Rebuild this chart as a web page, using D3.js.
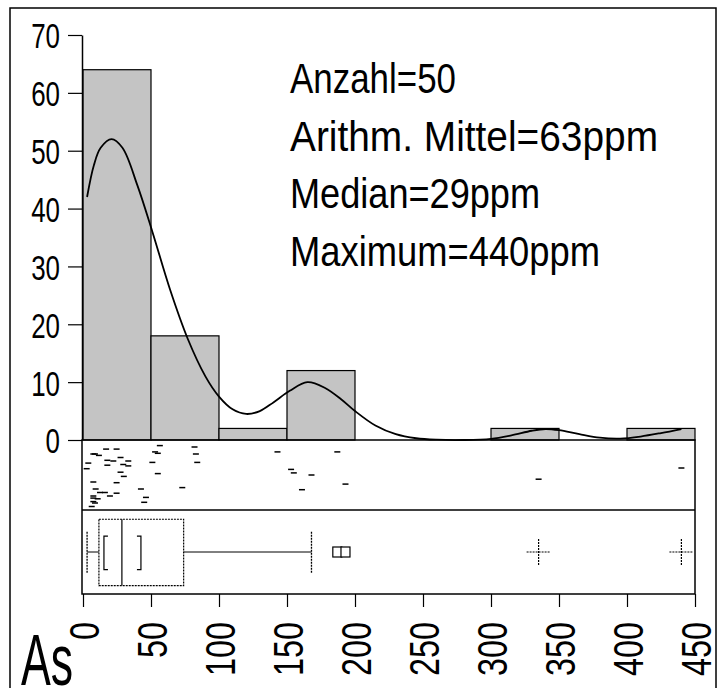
<!DOCTYPE html>
<html>
<head>
<meta charset="utf-8">
<script src="https://cdn.jsdelivr.net/npm/d3@7"></script>
<style>
  html, body { margin: 0; padding: 0; background: #fff; }
  svg { display: block; }
  text { font-family: "Liberation Sans", Arial, Helvetica, sans-serif; fill: #000; }
</style>
</head>
<body>
<svg id="chart" width="718" height="688"></svg>
<script>
// ---------- data ----------
const binStarts   = [0, 50, 100, 150, 200, 250, 300, 350, 400];
const binWidth    = 50;
const binPercent  = [64, 18, 2, 12, 0, 0, 2, 0, 2];
const yTicks      = [0, 10, 20, 30, 40, 50, 60, 70];
const xTicks      = [0, 50, 100, 150, 200, 250, 300, 350, 400, 450];

// density curve (x in ppm, y in %)
const curveX = [3, 8, 13, 21, 29, 40, 51, 64, 77, 90, 100, 110, 120, 130, 140, 152, 165, 178, 190, 200, 215, 230, 245, 260, 280, 300, 315, 330, 340, 350, 365, 380, 395, 410, 425, 440];
const curveY = [42, 47.5, 50.5, 52, 50.5, 44, 36, 26, 17.5, 11, 7.5, 5.3, 4.5, 5, 6.5, 8.5, 10, 9, 7, 5, 2.5, 1, 0.3, 0.05, 0, 0.2, 0.8, 1.6, 1.9, 1.7, 1, 0.4, 0.25, 0.6, 1.2, 1.9];

// individual samples (ppm) and their jitter level in the strip (0 = top, 1 = bottom)
const rugValues = [17, 24.7, 7.6, 8.8, 11.7, 17.9, 22.3, 27.6, 33.3, 3.9, 17.9, 29.6, 33.3, 2.7, 27.6, 7.6, 24.7, 9.3, 16.1, 12.5, 24.7, 19.8, 7.6, 7.6, 10.8, 42.6, 46.3, 7.6, 8.8, 45, 6.4, 30,
                   51, 53, 55, 55, 56.5, 73, 82, 83, 84, 143, 153, 155, 161, 168, 187, 193, 335, 440];
const rugLevels = [0.13, 0.13, 0.2, 0.2, 0.22, 0.29, 0.3, 0.25, 0.3, 0.33, 0.36, 0.35, 0.37, 0.41, 0.46, 0.6, 0.61, 0.7, 0.75, 0.75, 0.76, 0.8, 0.8, 0.83, 0.84, 0.7, 0.82, 0.88, 0.9, 0.89, 0.95, 0.52,
                   0.32, 0.17, 0.19, 0.48, 0.08, 0.68, 0.1, 0.2, 0.32, 0.17, 0.42, 0.47, 0.71, 0.5, 0.17, 0.63, 0.56, 0.4];

// box plot statistics (ppm)
const boxStats = { whiskerLow: 3, q1: 11.7, ciLow: 15.4, median: 28.6, ciHigh: 42.6, q3: 74, whiskerHigh: 168 };
const outliers    = [187, 193];
const farOutliers = [335, 440];

const statLines = ["Anzahl=50", "Arithm. Mittel=63ppm", "Median=29ppm", "Maximum=440ppm"];
const elementName = "As";

// ---------- layout ----------
const svg = d3.select("#chart");
const left = 83, right = 695;
const histTop = 35, histBottom = 440;
const stripBottom = 510, boxBottom = 594;
const statWidths = [166, 368, 250, 310];   // rendered widths of the condensed statistics lines

const x = d3.scaleLinear().domain([0, 450]).range([left, right]);
const y = d3.scaleLinear().domain([0, 70]).range([histBottom, histTop]);
const stripY = d3.scaleLinear().domain([0, 1]).range([histBottom, stripBottom]);
const boxY = d3.scaleLinear().domain([0, 1]).range([stripBottom, boxBottom]);

// outer frame
svg.append("rect").attr("x", 10).attr("y", 8).attr("width", 706).attr("height", 700)
  .attr("fill", "none").attr("stroke", "#000").attr("stroke-width", 1.5);

// histogram bars
svg.append("g").selectAll("rect").data(binStarts.map((s, i) => ({ s, v: binPercent[i] })).filter(d => d.v > 0))
  .join("rect")
  .attr("x", d => x(d.s)).attr("width", d => x(d.s + binWidth) - x(d.s))
  .attr("y", d => y(d.v)).attr("height", d => y(0) - y(d.v))
  .attr("fill", "#c4c4c4").attr("stroke", "#000").attr("stroke-width", 1.2);

// density curve
svg.append("path")
  .datum(curveX.map((v, i) => [v, curveY[i]]))
  .attr("fill", "none").attr("stroke", "#000").attr("stroke-width", 1.8)
  .attr("d", d3.line().x(d => x(d[0])).y(d => y(d[1])).curve(d3.curveCatmullRom));

// y axis
const yAxis = svg.append("g").attr("transform", `translate(${left - 1},0)`)
  .call(d3.axisLeft(y).tickValues(yTicks).tickSize(14).tickPadding(8).tickSizeOuter(0));
yAxis.select(".domain").attr("stroke", "#000").attr("stroke-width", 1.5);
yAxis.selectAll(".tick line").attr("stroke", "#000").attr("stroke-width", 1.2);
yAxis.selectAll(".tick text").attr("font-size", 36).attr("dy", "0.36em")
  .attr("x", 0).attr("transform", "translate(-22,0) scale(0.72,1)")
  .style("font-family", "'Liberation Sans', Arial, sans-serif");

// strip + box panel frames
svg.append("rect").attr("x", left - 1).attr("y", histBottom).attr("width", right - left + 1).attr("height", boxBottom - histBottom)
  .attr("fill", "none").attr("stroke", "#000").attr("stroke-width", 1.5);
svg.append("line").attr("x1", left - 1).attr("x2", right).attr("y1", stripBottom).attr("y2", stripBottom)
  .attr("stroke", "#000").attr("stroke-width", 1.5);

// rug dashes
svg.append("g").selectAll("line").data(rugValues.map((v, i) => ({ v, l: rugLevels[i] })))
  .join("line")
  .attr("x1", d => x(d.v) - 3).attr("x2", d => x(d.v) + 3)
  .attr("y1", d => stripY(d.l)).attr("y2", d => stripY(d.l))
  .attr("stroke", "#000").attr("stroke-width", 1.5);

// box plot
const bp = svg.append("g");
const cy = boxY(0.5);
bp.append("line").attr("x1", x(boxStats.whiskerLow)).attr("x2", x(boxStats.q1)).attr("y1", cy).attr("y2", cy)
  .attr("stroke", "#000").attr("stroke-width", 1);
bp.append("line").attr("x1", x(boxStats.q3)).attr("x2", x(boxStats.whiskerHigh)).attr("y1", cy).attr("y2", cy)
  .attr("stroke", "#000").attr("stroke-width", 1);
[boxStats.whiskerLow, boxStats.whiskerHigh].forEach(v => {
  bp.append("line").attr("x1", x(v)).attr("x2", x(v)).attr("y1", boxY(0.26)).attr("y2", boxY(0.75))
    .attr("stroke", "#000").attr("stroke-width", 1.3).attr("stroke-dasharray", "2,1");
});
bp.append("rect").attr("x", x(boxStats.q1)).attr("width", x(boxStats.q3) - x(boxStats.q1))
  .attr("y", boxY(0.11)).attr("height", boxY(0.9) - boxY(0.11))
  .attr("fill", "none").attr("stroke", "#000").attr("stroke-width", 1.2).attr("stroke-dasharray", "2,1");
bp.append("line").attr("x1", x(boxStats.median)).attr("x2", x(boxStats.median)).attr("y1", boxY(0.11)).attr("y2", boxY(0.9))
  .attr("stroke", "#000").attr("stroke-width", 1.2);
// confidence brackets
const bt = boxY(0.31), bb = boxY(0.71);
bp.append("path").attr("d", `M${x(boxStats.ciLow) + 4},${bt}H${x(boxStats.ciLow)}V${bb}H${x(boxStats.ciLow) + 4}`)
  .attr("fill", "none").attr("stroke", "#000").attr("stroke-width", 1.2);
bp.append("path").attr("d", `M${x(boxStats.ciHigh) - 4},${bt}H${x(boxStats.ciHigh)}V${bb}H${x(boxStats.ciHigh) - 4}`)
  .attr("fill", "none").attr("stroke", "#000").attr("stroke-width", 1.2);
// outliers (squares)
bp.selectAll("rect.out").data(outliers).join("rect").attr("class", "out")
  .attr("x", d => x(d) - 4.5).attr("y", cy - 5).attr("width", 9).attr("height", 10)
  .attr("fill", "#fff").attr("stroke", "#000").attr("stroke-width", 1.2);
// far outliers (crosses)
bp.selectAll("path.far").data(farOutliers).join("path").attr("class", "far")
  .attr("d", d => `M${x(d) - 12},${cy}H${x(d) + 12}M${x(d)},${cy - 13}V${cy + 13}`)
  .attr("stroke", "#000").attr("stroke-width", 1.2).attr("stroke-dasharray", "2,1").attr("fill", "none");

// x axis
const xAxis = svg.append("g").attr("transform", `translate(0,${boxBottom})`)
  .call(d3.axisBottom(x).tickValues(xTicks).tickSize(13).tickSizeOuter(0).tickFormat(d3.format("d")));
xAxis.select(".domain").remove();
xAxis.selectAll(".tick line").attr("stroke", "#000").attr("stroke-width", 1.2);
xAxis.selectAll(".tick text")
  .attr("font-size", 42).attr("text-anchor", "end")
  .attr("transform", "translate(0,28) rotate(-90) scale(0.77,1)")
  .attr("x", 0).attr("y", 0).attr("dy", "0.36em")
  .style("font-family", "'Liberation Sans', Arial, sans-serif");

// element label
svg.append("text").attr("transform", "translate(21,685) scale(0.62,1)").attr("font-size", 72).text(elementName);

// statistics text
svg.append("g").selectAll("text").data(statLines).join("text")
  .attr("x", 290).attr("y", (d, i) => 93 + i * 57.7)
  .attr("font-size", 42)
  .attr("textLength", (d, i) => statWidths[i]).attr("lengthAdjust", "spacingAndGlyphs")
  .text(d => d);
</script>
</body>
</html>
